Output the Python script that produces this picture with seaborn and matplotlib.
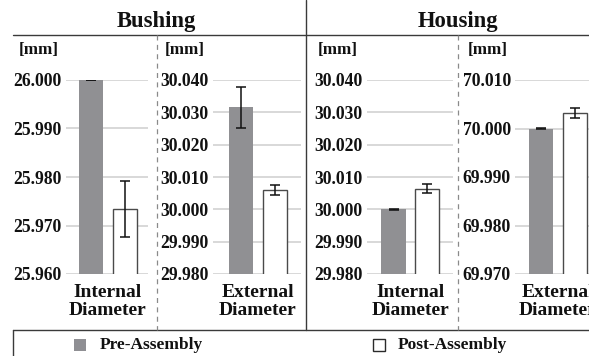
import numpy as np
import pandas as pd
import matplotlib
matplotlib.use("Agg")
import matplotlib.pyplot as plt
import seaborn as sns
from matplotlib.patches import Rectangle
from matplotlib.lines import Line2D

# Measured diameters, mean and standard deviation (mm)
parts = ["Bushing", "Bushing", "Housing", "Housing"]
features = ["Internal\nDiameter", "External\nDiameter", "Internal\nDiameter", "External\nDiameter"]
phases = ["Pre-Assembly", "Post-Assembly"]
pre_mean = [26.000, 30.0316, 30.000, 70.000]
pre_sd = [0.0001, 0.0063, 0.0001, 0.0001]
post_mean = [25.9734, 30.0060, 30.0064, 70.0032]
post_sd = [0.0057, 0.0016, 0.0013, 0.0010]
y_min = [25.960, 29.980, 29.980, 69.970]
y_max = [26.000, 30.040, 30.040, 70.010]
y_step = 0.010
phase_colors = {"Pre-Assembly": "#8f8f93", "Post-Assembly": "#ffffff"}

rows = []
for i in range(4):
    rows.append(dict(panel=i, part=parts[i], feature=features[i], phase=phases[0],
                     value=pre_mean[i], sd=pre_sd[i]))
    rows.append(dict(panel=i, part=parts[i], feature=features[i], phase=phases[1],
                     value=post_mean[i], sd=post_sd[i]))
df = pd.DataFrame(rows)

sns.set_style("white")
plt.rcParams["font.family"] = ["Liberation Serif", "DejaVu Serif"]
plt.rcParams["font.weight"] = "bold"

W, H = 589, 356
fig = plt.figure(figsize=(W / 100, H / 100), dpi=100)


def fx(px):
    return px / W


def fy(py):
    return 1 - py / H


# panel geometry in pixels: left edge, right edge, category centre
panel_px = [(66, 148, 108.0), (213, 301, 258.0), (367, 453, 410.3), (515, 600, 558.0)]
px_per_unit = 84.0
ax_top, ax_bottom = 80, 274
text_color = "#111111"

for i, (left, right, center) in enumerate(panel_px):
    ax = fig.add_axes([fx(left), fy(ax_bottom), (right - left) / W, (ax_bottom - ax_top) / H])
    sub = df[df.panel == i]
    sns.barplot(data=sub, x="feature", y="value", hue="phase", hue_order=phases,
                palette=phase_colors, gap=0.28, errorbar=None, legend=False,
                ax=ax, zorder=2, linewidth=1.0)
    for patch, ph in zip(ax.patches, phases):
        if ph == "Post-Assembly":
            patch.set_edgecolor("#4a4a4a")
            patch.set_linewidth(1.0)
        else:
            patch.set_edgecolor("none")
    for patch, ph in zip(ax.patches, phases):
        r = sub[sub.phase == ph].iloc[0]
        xc = patch.get_x() + patch.get_width() / 2
        ax.errorbar(xc, patch.get_height(), yerr=r.sd, fmt="none", ecolor=text_color,
                    elinewidth=1.1, capsize=3.6, capthick=1.1, zorder=3)
    n = int(round((y_max[i] - y_min[i]) / y_step)) + 1
    ticks = np.linspace(y_min[i], y_max[i], n)
    ax.set_ylim(y_min[i], y_max[i])
    ax.set_yticks(ticks)
    ax.set_yticklabels([f"{t:.3f}" for t in ticks], fontsize=12.7, fontweight="bold",
                       color=text_color)
    ax.set_xlim((left - center) / px_per_unit, (right - center) / px_per_unit)
    ax.set_xticks([0])
    ax.set_xticklabels([features[i]], fontsize=14, fontweight="bold", color=text_color,
                       linespacing=1.1)
    ax.tick_params(axis="both", length=0)
    ax.tick_params(axis="y", pad=3)
    ax.tick_params(axis="x", pad=7)
    ax.set_xlabel("")
    ax.set_ylabel("")
    ax.yaxis.grid(True, color="#d2d2d2", linewidth=1.2)
    ax.xaxis.grid(False)
    ax.set_axisbelow(True)
    for s in ax.spines.values():
        s.set_visible(False)
    ax.patch.set_alpha(0)

# unit labels
for xpx in [19, 165, 318, 468]:
    fig.text(fx(xpx), fy(50), "[mm]", ha="left", va="center", fontsize=12.3,
             fontweight="bold", color=text_color)

# group titles
fig.text(fx(156.7), fy(22), "Bushing", ha="center", va="center", fontsize=16.3,
         fontweight="bold", color=text_color)
fig.text(fx(457.5), fy(22), "Housing", ha="center", va="center", fontsize=16.3,
         fontweight="bold", color=text_color)

frame_color = "#3a3a3a"
fig.add_artist(Line2D([fx(12.7), fx(W)], [fy(35), fy(35)], color=frame_color, lw=1.0))
fig.add_artist(Line2D([fx(306), fx(306)], [fy(0), fy(329.5)], color=frame_color, lw=1.0))
fig.add_artist(Line2D([fx(12.7), fx(W)], [fy(329.5), fy(329.5)], color=frame_color, lw=1.0))
fig.add_artist(Line2D([fx(12.7), fx(12.7)], [fy(329.5), fy(H)], color=frame_color, lw=1.0))
for xd in [157, 458.3]:
    fig.add_artist(Line2D([fx(xd), fx(xd)], [fy(35), fy(329.5)], color="#8a8a8a",
                          lw=0.9, linestyle=(0, (4, 3.5))))

# legend
legend_y = 345
for (xm, xt), ph in zip([(73.5, 100), (373, 398)], phases):
    ec = "none" if ph == "Pre-Assembly" else "#2a2a2a"
    fig.add_artist(Rectangle((fx(xm), fy(legend_y + 6)), 12 / W, 12 / H,
                             facecolor=phase_colors[ph], edgecolor=ec, lw=1.0,
                             transform=fig.transFigure))
    fig.text(fx(xt), fy(legend_y), ph, ha="left", va="center", fontsize=12.5,
             fontweight="bold", color=text_color)

fig.savefig("out.png", dpi=100)
